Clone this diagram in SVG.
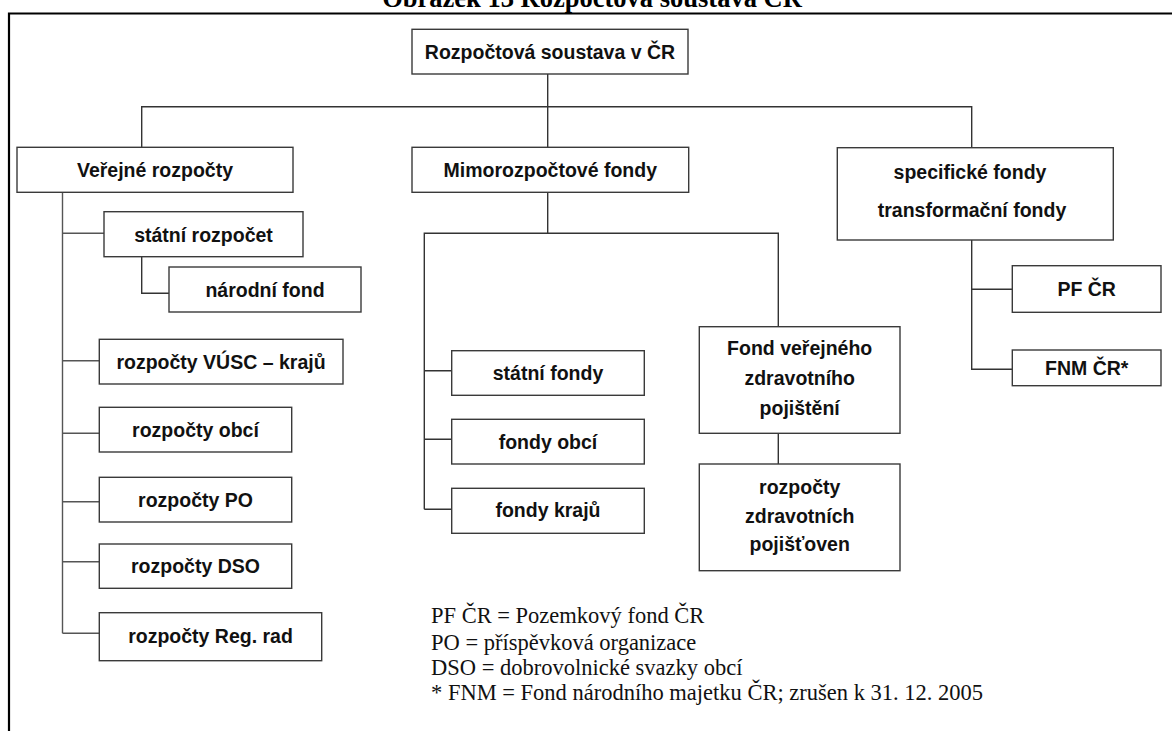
<svg xmlns="http://www.w3.org/2000/svg" width="1172" height="731" viewBox="0 0 1172 731">
<style>
.box{fill:#fff;stroke:#3a3a3a;stroke-width:1.4}
.lbl{font-family:"Liberation Sans",Arial,sans-serif;font-weight:bold;font-size:19.5px;fill:#111;text-anchor:middle}
.con{fill:none;stroke:#333;stroke-width:1.4}
.con2{fill:none;stroke:#555;stroke-width:1.4}
.note{font-family:"Liberation Serif","Times New Roman",serif;font-size:22.5px;fill:#111}
.title{font-family:"Liberation Serif","Times New Roman",serif;font-weight:bold;font-size:26.5px;fill:#000;text-anchor:middle}
</style>
<rect width="1172" height="731" fill="#fff"/>
<text class="title" x="592" y="7">Obrázek 13 Rozpočtová soustava ČR</text>
<path d="M9 731 V13.5 H1172" fill="none" stroke="#000" stroke-width="2.2"/>
<g id="connectors">
<path class="con" d="M547.7 74 V147.3 M141.7 147.3 V106.7 H971.7 V147.7"/>
<path class="con2" d="M62.5 192.3 V633.3 M62.5 233.3 H104 M62.5 360.7 H99.3 M62.5 433.3 H99.3 M62.5 501.7 H99.3 M62.5 561.7 H99.3 M62.5 633.3 H99.3"/>
<path class="con" d="M141.7 256.7 V293.3 H169"/>
<path class="con" d="M547.7 192.3 V233.3 M424.3 509.3 V233.3 H778.3 V326.7 M424.3 370.7 H451.7 M424.3 439.3 H451.7 M424.3 509.3 H451.7 M778.3 433.3 V464"/>
<path class="con" d="M971.7 240 V369.3 H1012.3 M971.7 289.3 H1012.3"/>
</g>
<g id="root"><rect class="box" x="412" y="29.3" width="276" height="44.7"/><text class="lbl" x="550" y="59">Rozpočtová soustava v ČR</text></g>
<g id="verejne"><rect class="box" x="17" y="147.3" width="276" height="45"/><text class="lbl" x="155" y="177">Veřejné rozpočty</text></g>
<g id="statni-rozpocet"><rect class="box" x="104" y="211.7" width="199" height="45"/><text class="lbl" x="203.5" y="241.5">státní rozpočet</text></g>
<g id="narodni-fond"><rect class="box" x="169" y="267" width="192" height="45"/><text class="lbl" x="265" y="296.5">národní fond</text></g>
<g id="vusc"><rect class="box" x="99.3" y="339.3" width="243.7" height="44.7"/><text class="lbl" x="221" y="368.7">rozpočty VÚSC – krajů</text></g>
<g id="obci"><rect class="box" x="99.3" y="407.3" width="192.4" height="44.7"/><text class="lbl" x="195.5" y="436.7">rozpočty obcí</text></g>
<g id="po"><rect class="box" x="99.3" y="477.3" width="192.4" height="44.7"/><text class="lbl" x="195.5" y="506.7">rozpočty PO</text></g>
<g id="dso"><rect class="box" x="99.3" y="544" width="192.4" height="44.3"/><text class="lbl" x="195.5" y="573">rozpočty DSO</text></g>
<g id="reg"><rect class="box" x="99.3" y="612.7" width="222.4" height="48"/><text class="lbl" x="210.5" y="643">rozpočty Reg. rad</text></g>
<g id="mimo"><rect class="box" x="412" y="147.3" width="276.7" height="45"/><text class="lbl" x="550.3" y="177">Mimorozpočtové fondy</text></g>
<g id="statni-fondy"><rect class="box" x="451.7" y="350.7" width="192.6" height="44.6"/><text class="lbl" x="548" y="380">státní fondy</text></g>
<g id="fondy-obci"><rect class="box" x="451.7" y="419.3" width="192.6" height="44.7"/><text class="lbl" x="548" y="448.5">fondy obcí</text></g>
<g id="fondy-kraju"><rect class="box" x="451.7" y="488.3" width="192.6" height="45"/><text class="lbl" x="548" y="517">fondy krajů</text></g>
<g id="fvzp"><rect class="box" x="699.3" y="326.7" width="200.7" height="106.6"/><text class="lbl" x="799.7" y="355">Fond veřejného</text><text class="lbl" x="799.7" y="385">zdravotního</text><text class="lbl" x="799.7" y="415">pojištění</text></g>
<g id="zp"><rect class="box" x="699.3" y="464" width="200.7" height="106.7"/><text class="lbl" x="799.7" y="494">rozpočty</text><text class="lbl" x="799.7" y="522.5">zdravotních</text><text class="lbl" x="799.7" y="551">pojišťoven</text></g>
<g id="specificke"><rect class="box" x="837.3" y="147.7" width="276" height="92.3"/><text class="lbl" x="970" y="179.3">specifické fondy</text><text class="lbl" x="972" y="217.3">transformační fondy</text></g>
<g id="pf"><rect class="box" x="1012.3" y="265.7" width="148.7" height="46.6"/><text class="lbl" x="1086.7" y="296">PF ČR</text></g>
<g id="fnm"><rect class="box" x="1012.3" y="350" width="148.7" height="35.7"/><text class="lbl" x="1086.7" y="374.5">FNM ČR*</text></g>
<g id="notes">
<text class="note" x="431" y="623">PF ČR = Pozemkový fond ČR</text>
<text class="note" x="431" y="650">PO = příspěvková organizace</text>
<text class="note" x="431" y="675">DSO = dobrovolnické svazky obcí</text>
<text class="note" x="431" y="700">* FNM = Fond národního majetku ČR; zrušen k 31. 12. 2005</text>
</g>
</svg>
